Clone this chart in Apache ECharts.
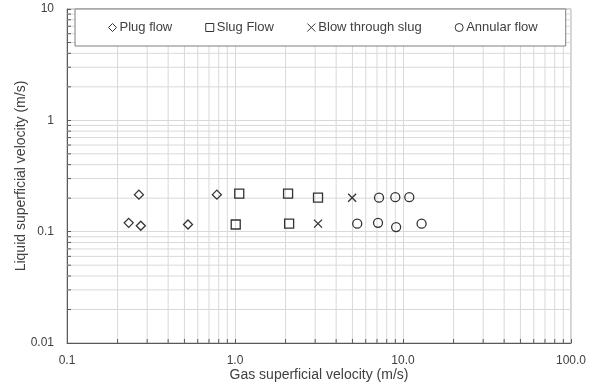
<!DOCTYPE html>
<html>
<head>
<meta charset="utf-8">
<script src="https://cdn.jsdelivr.net/npm/echarts@6/dist/echarts.min.js"></script>
<style>html,body{margin:0;padding:0;background:#fff}#c{width:595px;height:388px}</style>
</head>
<body>
<div id="c"></div>
<script>
// Data (gas velocity m/s, liquid velocity m/s)
const plugFlow = [[0.268,0.215],[0.78,0.215],[0.233,0.120],[0.275,0.113],[0.525,0.116]];
const slugFlow = [[1.06,0.220],[2.07,0.220],[3.12,0.202],[1.01,0.116],[2.10,0.118]];
const blowThroughSlug = [[3.12,0.118],[4.98,0.202]];
const annularFlow = [[7.2,0.202],[9.0,0.204],[10.9,0.204],[5.34,0.118],[7.1,0.120],[9.1,0.110],[12.9,0.118]];
const seriesNames = ['Plug flow','Slug Flow','Blow through slug','Annular flow'];
const xMinor = [0.2,0.3,0.4,0.5,0.6,0.7,0.8,0.9,2,3,4,5,6,7,8,9,20,30,40,50,60,70,80,90];
const yMinor = [0.02,0.03,0.04,0.05,0.06,0.07,0.08,0.09,0.2,0.3,0.4,0.5,0.6,0.7,0.8,0.9,2,3,4,5,6,7,8,9];
const xTickLabels = {'-1':'0.1','0':'1.0','1':'10.0','2':'100.0'};
const yTickLabels = {'-2':'0.01','-1':'0.1','0':'1','1':'10'};
const xRange = [0.1, 100];
const yRange = [0.01, 10];

const textColor = '#404040';
const markColor = '#333333';
const gridColor = '#d9d9d9';
const axisColor = '#595959';
const font = '"Liberation Sans", Arial, sans-serif';

const chart = echarts.init(document.getElementById('c'), null, {renderer:'canvas'});

function minorRender(isX){
  return function(params, api){
    let a, b;
    if (isX){
      const v = api.value(0);
      a = api.coord([v, yRange[0]]); b = api.coord([v, yRange[1]]);
      return {type:'group', children:[
        {type:'line', shape:{x1:a[0],y1:a[1],x2:b[0],y2:b[1]}, style:{stroke:gridColor,lineWidth:1}, z2:0},
        {type:'line', shape:{x1:a[0],y1:a[1],x2:a[0],y2:a[1]-4}, style:{stroke:axisColor,lineWidth:1}, z2:1}
      ]};
    } else {
      const v = api.value(1);
      a = api.coord([xRange[0], v]); b = api.coord([xRange[1], v]);
      return {type:'group', children:[
        {type:'line', shape:{x1:a[0],y1:a[1],x2:b[0],y2:b[1]}, style:{stroke:gridColor,lineWidth:1}, z2:0},
        {type:'line', shape:{x1:a[0],y1:a[1],x2:a[0]+4,y2:a[1]}, style:{stroke:axisColor,lineWidth:1}, z2:1}
      ]};
    }
  };
}

function scatter(name, data, symbol, size){
  return {
    name, type:'scatter', data, symbol, symbolSize:size, z:5,
    itemStyle:{color:'rgba(0,0,0,0)', borderColor:markColor, borderWidth:1.3, opacity:1},
    emphasis:{disabled:true}
  };
}

const option = {
  animation:false,
  backgroundColor:'#fff',
  textStyle:{fontFamily:font},
  grid:{left:67, right:24, top:9, bottom:45, show:true, borderColor:'#a6a6a6', borderWidth:1, backgroundColor:'transparent'},
  legend:{
    left:75, top:9,
    padding:[12,28,12,33],
    itemGap:33,
    itemWidth:8, itemHeight:8,
    backgroundColor:'#fff',
    borderColor:'#7f7f7f', borderWidth:1,
    itemStyle:{borderWidth:1, borderColor:markColor, color:'rgba(0,0,0,0)'},
    textStyle:{fontFamily:font, fontSize:13, color:textColor, padding:[0,0,0,-2]},
    data:seriesNames
  },
  xAxis:{
    type:'log', logBase:10, min:xRange[0], max:xRange[1],
    name:'Gas superficial velocity (m/s)', nameLocation:'middle', nameGap:25, nameMoveOverlap:false,
    nameTextStyle:{fontFamily:font, fontSize:14, color:textColor},
    axisLine:{show:true, onZero:false, lineStyle:{color:axisColor, width:1}},
    axisTick:{show:true, inside:true, length:4, lineStyle:{color:axisColor}},
    axisLabel:{fontFamily:font, fontSize:12, color:textColor, margin:12,
      formatter:v=>xTickLabels[String(Math.round(Math.log10(v)))]},
    splitLine:{show:true, lineStyle:{color:gridColor, width:1}},
    minorTick:{show:false}, minorSplitLine:{show:false}
  },
  yAxis:{
    type:'log', logBase:10, min:yRange[0], max:yRange[1],
    name:'Liquid superficial velocity (m/s)', nameLocation:'middle', nameGap:39, nameMoveOverlap:false,
    nameTextStyle:{fontFamily:font, fontSize:14, color:textColor},
    axisLine:{show:true, onZero:false, lineStyle:{color:axisColor, width:1}},
    axisTick:{show:true, inside:true, length:4, lineStyle:{color:axisColor}},
    axisLabel:{fontFamily:font, fontSize:12, color:textColor, margin:13,
      formatter:v=>yTickLabels[String(Math.round(Math.log10(v)))]},
    splitLine:{show:true, lineStyle:{color:gridColor, width:1}},
    minorTick:{show:false}, minorSplitLine:{show:false}
  },
  series:[
    {type:'custom', name:'xminor', coordinateSystem:'cartesian2d', z:1, silent:true,
      data:xMinor.map(v=>[v, yRange[0]]), renderItem:minorRender(true), clip:false},
    {type:'custom', name:'yminor', coordinateSystem:'cartesian2d', z:1, silent:true,
      data:yMinor.map(v=>[xRange[0], v]), renderItem:minorRender(false), clip:false},
    scatter('Plug flow', plugFlow, 'diamond', 9),
    scatter('Slug Flow', slugFlow, 'rect', 9),
    scatter('Blow through slug', blowThroughSlug, 'path://M0,0L10,10M10,0L0,10', 8),
    scatter('Annular flow', annularFlow, 'circle', 9)
  ]
};
chart.setOption(option);
</script>
</body>
</html>
